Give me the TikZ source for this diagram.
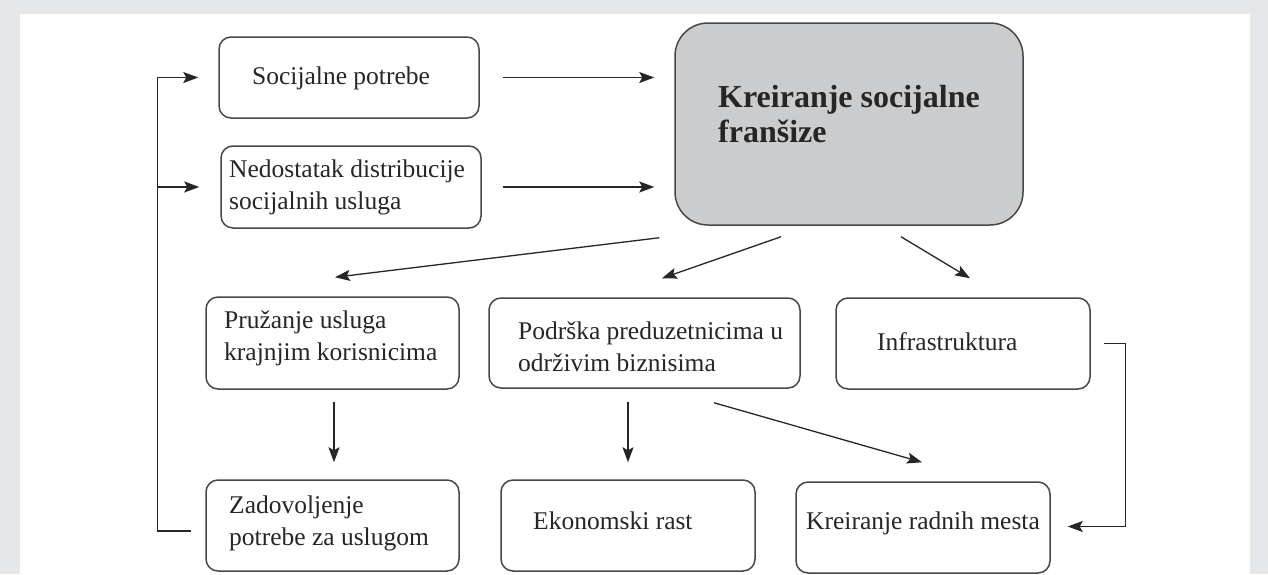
\documentclass[tikz,border=0pt]{standalone}
\usepackage{fontspec}
\setmainfont{Liberation Serif}
\usetikzlibrary{arrows.meta,calc}
\definecolor{bgray}{HTML}{E6E7E8}
\definecolor{fillg}{HTML}{CBCCCE}
\definecolor{ink}{HTML}{262626}
\tikzset{
  box/.style={draw=ink!85, line width=1.5pt, rounded corners=12pt, inner sep=0pt},
  bigbox/.style={box, fill=fillg, rounded corners=33pt},
  txt/.style={anchor=west, inner sep=0pt, align=left, font=\fontsize{25.5}{32}\selectfont, text=ink},
  btxt/.style={txt, font=\fontsize{32}{35}\selectfont\bfseries},
  arr/.style={draw=ink, line width=1.3pt, -{Stealth[length=15pt,width=11pt,inset=3pt]}},
  link/.style={draw=ink, line width=1.3pt},
}
\begin{document}
\begin{tikzpicture}[x=1pt,y=-1pt]
\useasboundingbox (0,0) rectangle (1268,574);
\fill[bgray] (0,0) rectangle (1268,574);
\fill[white] (20,14) rectangle (1250,574);

% boxes
\node[box, minimum width=260pt, minimum height=81pt] (soc) at (349,77.5) {};
\node[box, minimum width=260pt, minimum height=82pt] (ned) at (351,187) {};
\node[bigbox, minimum width=348pt, minimum height=202pt] (big) at (849,124) {};
\node[box, minimum width=253pt, minimum height=92pt] (pru) at (332.5,343) {};
\node[box, minimum width=311pt, minimum height=90pt] (pod) at (644.5,343) {};
\node[box, minimum width=254pt, minimum height=91pt] (inf) at (963,343.5) {};
\node[box, minimum width=253pt, minimum height=91pt] (zad) at (332.5,525.5) {};
\node[box, minimum width=254pt, minimum height=91pt] (eko) at (628,525.5) {};
\node[box, minimum width=254pt, minimum height=91pt] (krm) at (923,527.5) {};

% texts
\node[txt] (tsoc) at (252,78) {Socijalne potrebe};
\node[txt] (tned) at (229,187.5) {Nedostatak distribucije\\socijalnih usluga};
\node[btxt] (tbig) at (718,114.5) {Kreiranje socijalne\\franšize};
\node[txt] (tpru) at (224,338.5) {Pružanje usluga\\krajnjim korisnicima};
\node[txt] (tpod) at (518,347) {Podrška preduzetnicima u\\održivim biznisima};
\node[txt] (tinf) at (877,342) {Infrastruktura};
\node[txt] (tzad) at (229,523) {Zadovoljenje\\potrebe za uslugom};
\node[txt] (teko) at (533,521) {Ekonomski rast};
\node[txt] (tkrm) at (806,523) {Kreiranje radnih mesta};

% connectors
\draw[arr, shorten <=23pt, shorten >=20pt] (soc.east) -- (soc.east -| big.west);
\draw[arr, shorten <=21pt, shorten >=20pt] (ned.east) -- (ned.east -| big.west);
\draw[arr] ($(big.south west)+(-15,12)$) -- ($(pru.north)+(2.5,-19)$);
\draw[arr] ($(big.south)+(-68,11)$) -- ($(pod.north)+(17.5,-19)$);
\draw[arr] ($(big.south)+(52,11)$) -- ($(inf.north)+(7,-19)$);
\draw[arr] ($(pru.south)+(1.5,12)$) -- ($(zad.north)+(1.5,-17)$);
\draw[arr] ($(eko.north |- pod.south)+(0,13)$) -- ($(eko.north)+(0,-17)$);
\draw[arr] ($(pod.south)+(69.5,14)$) -- ($(krm.north)+(-1,-19)$);
\draw[arr] ($(inf.east)+(13,0)$) -- ++(22,0) |- ($(krm.east)+(17,-1)$);
\draw[link] ($(zad.west)+(-14,5.5)$) -| ($(soc.west)+(-61,0)$);
\draw[arr] ($(soc.west)+(-61,0)$) -- ($(soc.west)+(-20,0)$);
\draw[arr] ($(ned.west)+(-63,0)$) -- ($(ned.west)+(-21,0)$);
\end{tikzpicture}
\end{document}
